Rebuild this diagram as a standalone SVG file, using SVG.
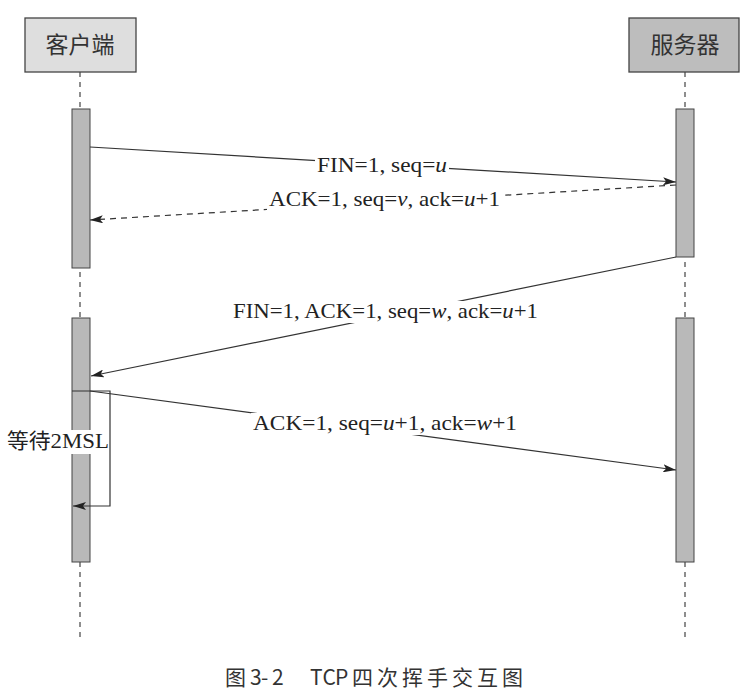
<svg xmlns="http://www.w3.org/2000/svg" width="747" height="698" viewBox="0 0 747 698">
<style>
.box{stroke:#444;stroke-width:1.3}
.bar{fill:#b9b9b9;stroke:#444;stroke-width:1}
.life{stroke:#444;stroke-width:1.2;stroke-dasharray:5,5;fill:none}
.msg{stroke:#333;stroke-width:1.2;fill:none}
.dash{stroke-dasharray:6,5}
.lbl{font-family:"Liberation Serif","Times New Roman",serif;font-size:22px;fill:#222}
.cjk{font-family:"Noto Sans CJK SC","Noto Sans",sans-serif;fill:#333}
.bg{fill:#fff}
</style>
<defs>
<marker id="ah" viewBox="0 0 13 8" refX="13" refY="4" markerWidth="13" markerHeight="8" markerUnits="userSpaceOnUse" orient="auto">
<path d="M0,0 L13,4 L0,8 L3,4 z" fill="#222"/>
</marker>
</defs>
<rect width="747" height="698" fill="#fff"/>
<g id="lifelines">
<line class="life" x1="80" y1="72" x2="80" y2="640"/>
<line class="life" x1="685" y1="72" x2="685" y2="640"/>
</g>
<g id="client">
<rect class="box" x="25" y="18" width="111" height="54" fill="#dedede"/>
<text class="cjk" x="80" y="53" font-size="23" text-anchor="middle">客户端</text>
</g>
<g id="server">
<rect class="box" x="629" y="18" width="110" height="54" fill="#bdbdbd"/>
<text class="cjk" x="685" y="53" font-size="23" text-anchor="middle">服务器</text>
</g>
<g id="client-bar1"><rect class="bar" x="72" y="109" width="18" height="159"/></g>
<g id="client-bar2"><rect class="bar" x="72" y="318" width="18" height="244"/></g>
<g id="server-bar1"><rect class="bar" x="676" y="109" width="18" height="148"/></g>
<g id="server-bar2"><rect class="bar" x="676" y="318" width="18" height="244"/></g>
<g id="connectors">
<line class="msg" x1="90" y1="147" x2="676" y2="182" marker-end="url(#ah)"/>
<line class="msg dash" x1="676" y1="185" x2="90" y2="220" marker-end="url(#ah)"/>
<line class="msg" x1="676" y1="257" x2="91" y2="376" marker-end="url(#ah)"/>
<line class="msg" x1="90" y1="391" x2="676" y2="470" marker-end="url(#ah)"/>
<polyline class="msg" points="72,391 110,391 110,506 73,506" marker-end="url(#ah)"/>
</g>
<g id="labels">
<rect class="bg" x="315" y="154" width="134" height="22"/>
<text class="lbl" x="317" y="172" textLength="130" lengthAdjust="spacingAndGlyphs">FIN=1, seq=<tspan font-style="italic">u</tspan></text>
<rect class="bg" x="267" y="189" width="235" height="22"/>
<text class="lbl" x="269" y="206" textLength="231" lengthAdjust="spacingAndGlyphs">ACK=1, seq=<tspan font-style="italic">v</tspan>, ack=<tspan font-style="italic">u</tspan>+1</text>
<rect class="bg" x="231" y="301" width="309" height="22"/>
<text class="lbl" x="233" y="318" textLength="305" lengthAdjust="spacingAndGlyphs">FIN=1, ACK=1, seq=<tspan font-style="italic">w</tspan>, ack=<tspan font-style="italic">u</tspan>+1</text>
<rect class="bg" x="251" y="413" width="268" height="22"/>
<text class="lbl" x="253" y="430" textLength="264" lengthAdjust="spacingAndGlyphs">ACK=1, seq=<tspan font-style="italic">u</tspan>+1, ack=<tspan font-style="italic">w</tspan>+1</text>
<rect class="bg" x="5" y="430" width="104" height="24"/>
<text class="lbl" x="7" y="448" textLength="102" lengthAdjust="spacingAndGlyphs"><tspan font-family="Noto Sans CJK SC, sans-serif" font-size="21">等待</tspan>2MSL</text>
</g>
<text class="cjk" xml:space="preserve" y="685" font-size="21" fill="#222" x="225 250 261 272 283 294 305 310 322.5 335 352 377 402 427 452 477 502">图3-2   TCP四次挥手交互图</text>
</svg>
